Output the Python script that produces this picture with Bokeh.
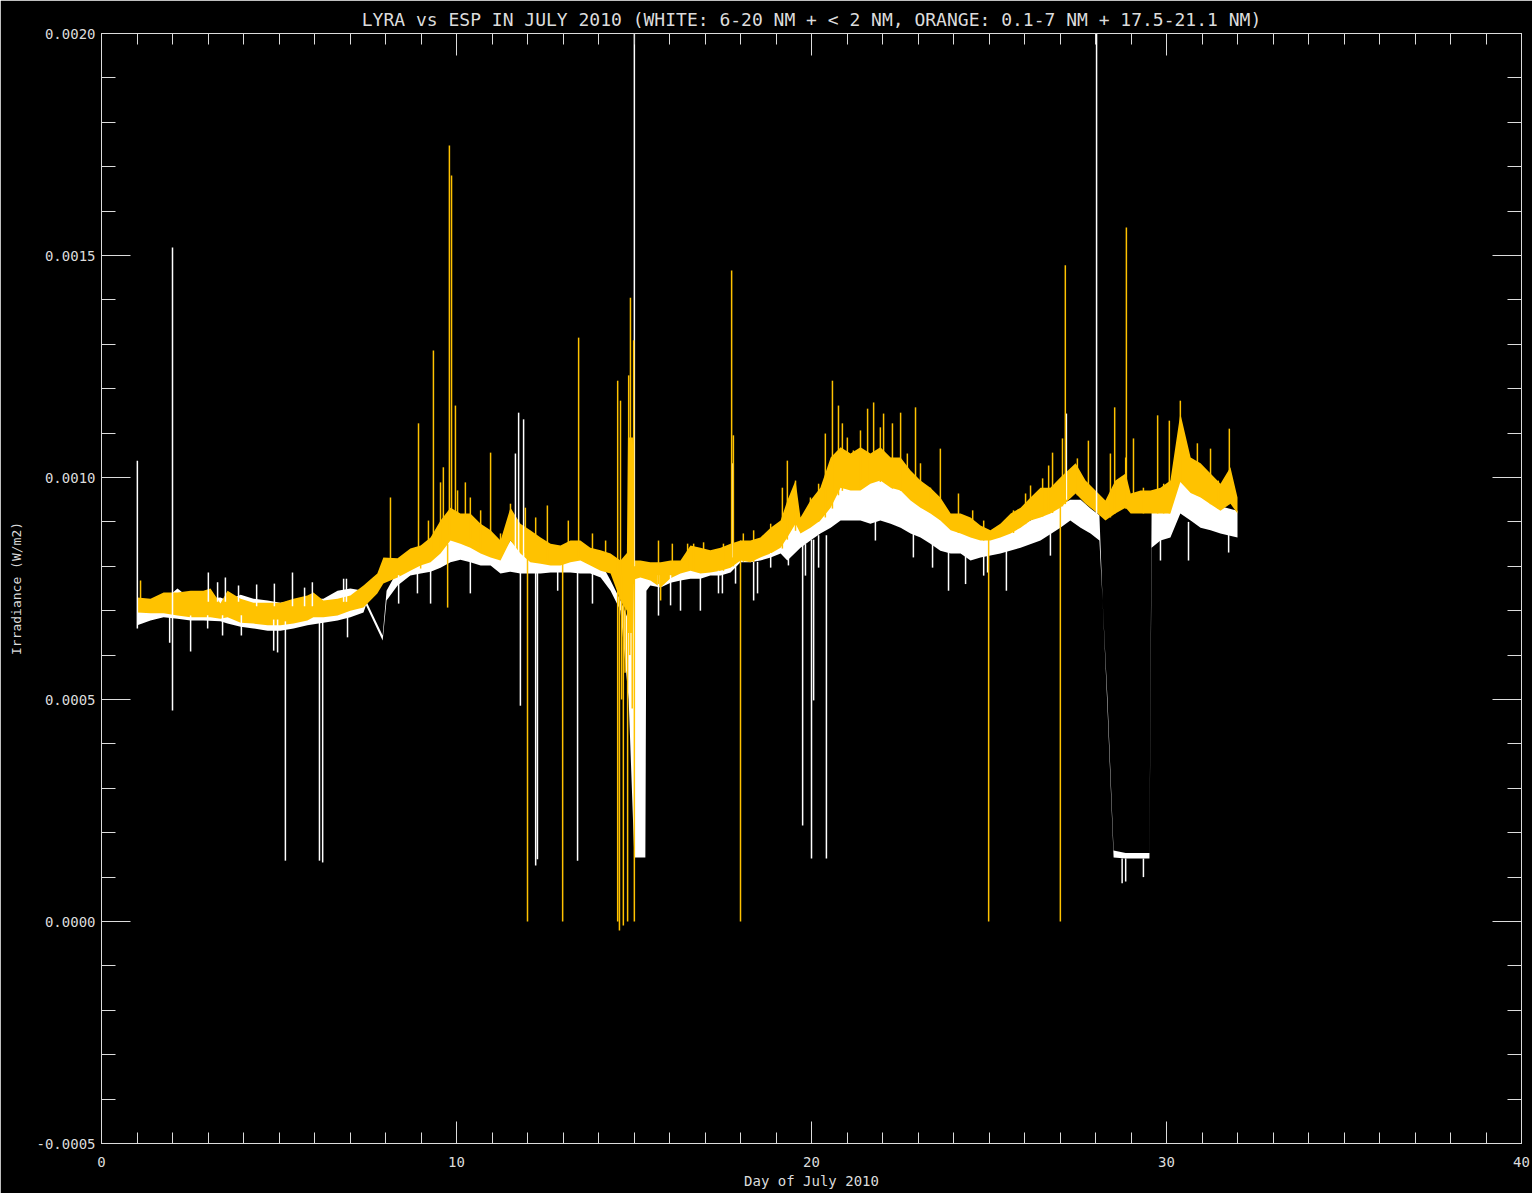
from bokeh.plotting import figure
from bokeh.models import Range1d, LinearAxis, SingleIntervalTicker, PrintfTickFormatter
from bokeh.embed import file_html
from bokeh.resources import INLINE
import numpy as np

# ---------------- data (irradiance in micro-W/m2, day of July 2010) ----------------
esp_day = [1.01, 1.38, 1.75, 2.14, 2.51, 2.87, 3.07, 3.35, 3.55, 3.92, 4.28, 4.68, 5.04, 5.41, 5.80, 5.97,
           6.25, 6.65, 7.01, 7.38, 7.77, 7.94, 8.34, 8.70, 8.99, 9.27, 9.55, 9.83, 10.11, 10.39, 10.68,
           10.96, 11.24, 11.52, 11.80, 12.08, 12.37, 12.65, 12.93, 13.21, 13.49, 13.77, 14.06, 14.34,
           14.62, 14.80, 14.83, 14.97, 15.00, 15.18, 15.46, 15.75, 16.03, 16.31, 16.59, 16.87, 17.15,
           17.44, 17.72, 18.00,
           18.28, 18.56, 18.85, 19.13, 19.32, 19.55, 19.69, 19.97, 20.25, 20.54, 20.82, 21.10, 21.38,
           21.66, 21.94, 22.23, 22.51, 22.79, 23.07, 23.35, 23.63, 23.92, 24.20, 24.48, 24.76, 25.04,
           25.32, 25.61, 25.89, 26.17, 26.45, 26.73, 27.01, 27.44, 27.72, 28.00, 28.28, 28.56, 28.85,
           28.99, 29.27, 29.55, 29.83, 30.11, 30.39, 30.68, 30.96, 31.24, 31.52, 31.80, 32.00]
esp_high = [730, 727, 741, 741, 745, 745, 750, 716, 745, 727, 718, 718, 718, 727, 734, 741,
            723, 727, 734, 757, 784, 820, 818, 840, 847, 865, 903, 932, 919, 919, 896,
            881, 858, 932, 896, 881, 865, 851, 847, 858, 858, 842, 836, 829,
            813, 830, 1090, 1090, 813, 813, 809, 809, 813, 813, 847, 842, 836,
            842, 851, 858,
            858, 865, 887, 903, 948, 993, 910, 948, 977, 1045, 1068, 1054, 1068,
            1054, 1068, 1045, 1045, 1016, 993, 977, 955, 919, 919, 910, 892, 881,
            896, 919, 932, 955, 977, 977, 1000, 1032, 993, 971, 948, 993, 1009,
            964, 971, 971, 977, 993, 1144, 1045, 1032, 1009, 986, 1023, 955]
esp_low = [696, 694, 694, 689, 685, 685, 685, 682, 685, 673, 671, 667, 667, 671, 678, 685,
           685, 689, 700, 707, 739, 761, 775, 790, 802, 809, 829, 858, 851, 842, 829,
           820, 813, 858, 829, 809, 806, 802, 802, 809, 813, 802, 790, 784,
           723, 700, 650, 650, 770, 775, 768, 752, 773, 784, 790, 784, 786,
           790, 797, 813,
           809, 820, 829, 842, 865, 896, 874, 887, 903, 932, 977, 971, 971,
           986, 993, 977, 971, 948, 932, 919, 903, 881, 874, 865, 858, 858,
           865, 874, 887, 903, 910, 919, 932, 964, 941, 923, 903, 919, 932,
           919, 919, 919, 919, 919, 990, 965, 955, 940, 925, 941, 919]

lyra_day = [1.01, 1.38, 1.75, 2.14, 2.51, 2.87, 3.35, 3.55, 3.92, 4.28, 4.68, 5.04, 5.41, 5.80, 6.25,
            6.65, 7.01, 7.38, 7.45, 7.92, 8.03, 8.34, 8.70, 8.99, 9.27, 9.55, 9.83, 10.11, 10.39,
            10.68, 10.96, 11.24, 11.52, 11.80, 12.08, 12.37, 12.65, 12.93, 13.21, 13.49, 13.77,
            14.06, 14.34, 14.62, 14.85, 15.01, 15.32, 15.35, 15.46, 15.75, 16.03, 16.31, 16.59,
            16.87, 17.15, 17.44, 17.72, 18.00, 18.28, 18.56, 18.85, 19.13, 19.32, 19.69, 19.97,
            20.25, 20.54, 20.82, 21.10, 21.38, 21.66, 21.94, 22.23, 22.51, 22.79, 23.07, 23.35,
            23.63, 23.92, 24.20, 24.48, 24.76, 25.32, 25.89, 26.45, 27.01, 27.29, 27.58, 27.86,
            28.11, 28.20, 28.34, 28.51, 28.85, 29.27, 29.52, 29.58, 29.83, 30.11, 30.39, 30.68,
            30.96, 31.24, 31.52, 32.00]
lyra_high = [712, 712, 723, 750, 727, 727, 730, 723, 736, 727, 723, 718, 723, 727, 727,
             745, 750, 745, 723, 644, 745, 790, 813, 824, 836, 858, 932, 903, 881,
             858, 835, 824, 858, 836, 824, 824, 820, 824, 824, 820, 813,
             809, 768, 723, 678, 813, 779, 779, 790, 790, 802, 806, 813,
             809, 813, 813, 824, 858, 847, 858, 869, 881, 941, 887, 903,
             910, 948, 980, 993, 980, 990, 997, 985, 978, 955, 940, 925,
             910, 888, 880, 870, 862, 870, 892, 915, 938, 950, 950, 930,
             915, 723, 498, 160, 154, 154, 154, 925, 925, 928, 1000, 975,
             965, 950, 935, 925]
lyra_low = [667, 678, 685, 682, 678, 678, 676, 671, 664, 660, 655, 655, 660, 667, 673,
            678, 685, 696, 712, 633, 723, 757, 779, 784, 788, 797, 809, 815, 809,
            802, 802, 784, 788, 784, 784, 784, 786, 786, 786, 784, 784,
            775, 745, 700, 500, 144, 144, 745, 757, 752, 763, 768, 772,
            772, 779, 779, 786, 809, 809, 813, 820, 829, 813, 842, 858,
            874, 887, 903, 903, 903, 896, 903, 896, 887, 874, 865, 851,
            835, 829, 829, 813, 820, 829, 842, 858, 887, 903, 887, 874,
            858, 723, 475, 144, 142, 142, 142, 842, 858, 865, 919, 903,
            887, 881, 874, 865]

# spikes: day, value at base, value at tip
lyra_spk_day = [1.01, 2.00, 2.51, 1.92, 2.99, 3.01, 3.27, 3.41, 3.49, 3.86, 3.94, 4.37, 4.85, 4.87,
                4.96, 5.18, 5.38, 5.72, 5.94, 6.14, 6.23, 6.82, 6.90, 6.93, 8.37, 8.90, 9.27, 10.39,
                11.66, 11.75, 11.80, 11.89, 12.23, 12.28, 12.85, 13.41, 13.83, 15.01, 15.69, 16.03,
                16.31, 16.87, 17.38, 17.49, 17.77, 17.86, 18.37, 18.48, 18.85, 19.35, 19.75, 19.83,
                20.00, 20.06, 20.20, 20.42, 21.80, 22.87, 23.41, 23.86, 24.34, 24.85, 24.96, 25.49,
                26.73, 27.18, 28.03, 28.75, 28.85, 29.35, 29.83, 30.62, 31.75]
lyra_spk_base = [660, 475, 689, 690, 690, 720, 720, 690, 720, 720, 690, 710, 680, 710,
                 680, 676, 710, 710, 710, 676, 676, 720, 720, 690, 780, 790, 800, 820,
                 820, 820, 820, 800, 800, 800, 800, 800, 790, 800, 780, 780,
                 780, 780, 790, 790, 820, 800, 810, 810, 830, 840, 850, 850,
                 860, 860, 870, 870, 950, 920, 900, 880, 860, 850, 850, 860,
                 890, 950, 900, 142, 142, 142, 880, 900, 890]
lyra_spk_tip = [1038, 1518, 608, 628, 660, 786, 764, 644, 775, 757, 644, 759, 610, 761,
                606, 137, 786, 752, 764, 137, 133, 772, 772, 640, 716, 739, 716, 739,
                1054, 1146, 486, 1131, 126, 140, 745, 137, 716, 2000, 689, 712,
                700, 700, 739, 739, 1032, 761, 723, 739, 797, 802, 216, 779,
                142, 498, 797, 142, 858, 820, 797, 745, 760, 779, 786, 745,
                824, 1144, 2000, 86, 90, 100, 813, 813, 831]

esp_spk_day = [1.10, 8.14, 8.93, 9.21, 9.35, 9.55, 9.63, 9.80, 9.86, 9.97, 10.03, 10.25, 10.39, 10.68,
               10.96, 11.24, 11.52, 11.94, 12.23, 12.56, 13.15, 13.44, 13.83, 14.20, 14.54, 14.62,
               14.85, 14.90, 14.99, 15.69, 16.08, 16.51, 16.68, 16.96, 17.52, 17.75, 17.80, 18.08,
               18.37, 18.85, 19.18, 19.32, 19.55, 19.97, 20.20, 20.39, 20.59, 20.76, 20.87, 21.01,
               21.18, 21.38, 21.58, 21.75, 21.94, 22.03, 22.28, 22.51, 22.70, 22.93, 23.07, 23.35,
               23.63, 24.14, 24.54, 24.85, 25.69, 26.03, 26.17, 26.51, 26.68, 26.79, 27.07, 27.15,
               27.49, 27.80, 28.42, 28.54, 28.85, 28.87, 29.07, 29.35, 29.75, 29.92, 30.08, 30.39,
               30.87, 31.24, 31.46, 31.77,
               8.99, 9.75, 12.00, 12.99, 14.54, 14.59, 14.65, 14.70, 14.75, 14.82, 14.88, 14.95,
               15.01, 15.75, 18.00, 24.99, 27.01]
esp_spk_base = [700, 790, 820, 820, 830, 840, 850, 870, 870, 870, 860, 860, 860, 840,
                830, 820, 860, 830, 810, 810, 810, 820, 810, 790, 780, 760,
                760, 760, 760, 760, 780, 790, 790, 790, 790, 800, 800, 810,
                810, 830, 840, 860, 880, 890, 900, 910, 930, 960, 970, 975,
                975, 975, 985, 990, 990, 990, 975, 970, 960, 950, 935, 920,
                905, 875, 865, 858, 875, 895, 905, 912, 918, 920, 935, 940,
                960, 940, 910, 918, 930, 930, 920, 919, 919, 919, 919, 990,
                960, 940, 930, 940,
                820, 850, 830, 810, 780, 780, 780, 780, 780, 780, 780, 780,
                780, 780, 830, 870, 940]
esp_spk_tip = [768, 955, 1122, 903, 1286, 989, 1023, 1748, 1680, 1162, 971, 989, 955, 926,
               1056, 874, 941, 932, 910, 937, 903, 1315, 874, 858, 1218, 1173,
               1230, 1405, 1309, 858, 851, 851, 851, 854, 851, 1466, 1095, 874,
               881, 896, 977, 1038, 993, 955, 986, 1099, 1218, 1162, 1122, 1090,
               1061, 1106, 1155, 1169, 1113, 1144, 1122, 1146, 1054, 1158, 1032, 977,
               1065, 964, 926, 903, 926, 964, 982, 998, 1027, 1056, 1088, 1478,
               1043, 1083, 1054, 1158, 1045, 1563, 1088, 977, 1140, 986, 1128, 1173,
               1077, 1065, 993, 1110,
               795, 707, 0, 0, 0, -20, 500, -9, 560, 0, 600, 480,
               0, 723, 0, 0, 0]

title_text = "LYRA vs ESP IN JULY 2010 (WHITE: 6-20 NM + < 2 NM, ORANGE: 0.1-7 NM + 17.5-21.1 NM)"
x_label = "Day of July 2010"
y_label = "Irradiance (W/m2)"

U = 1e-6
WHITE = "#FFFFFF"
ORANGE = "#FFC200"
FG = "#DCDCDC"
FONT = "DejaVu Sans Mono"

p = figure(frame_width=1420, frame_height=1110, output_backend="svg", toolbar_location=None,
           x_range=Range1d(0, 40), y_range=Range1d(-0.0005, 0.0020),
           background_fill_color="black", border_fill_color="black",
           min_border_left=101, min_border_right=11, min_border_top=33, min_border_bottom=50,
           x_axis_label=x_label, y_axis_label=y_label)
p.grid.visible = False
p.outline_line_color = FG

t = p.title
t.text = title_text
t.align = "center"
t.text_color = FG
t.text_font = FONT
t.text_font_style = "normal"
t.text_font_size = "18px"
t.standoff = 7

def style(ax, tick_len, minor_len, labels=True):
    ax.axis_line_color = FG
    ax.major_tick_line_color = FG
    ax.minor_tick_line_color = FG
    ax.major_tick_in = tick_len
    ax.major_tick_out = 0
    ax.minor_tick_in = minor_len
    ax.minor_tick_out = 0
    ax.major_label_text_color = FG
    ax.major_label_text_font = FONT
    ax.major_label_text_font_size = "14px" if labels else "0px"
    ax.axis_label_text_color = FG
    ax.axis_label_text_font = FONT
    ax.axis_label_text_font_style = "normal"

xa = p.xaxis[0]
xa.ticker = SingleIntervalTicker(interval=10, num_minor_ticks=10)
style(xa, 22, 11)
xa.major_label_standoff = 13
xa.axis_label_text_font_size = "14px"
xa.axis_label_standoff = 3

ya = p.yaxis[0]
ya.ticker = SingleIntervalTicker(interval=0.0005, num_minor_ticks=5)
ya.formatter = PrintfTickFormatter(format="%.4f")
style(ya, 29, 14)
ya.major_label_standoff = 6
ya.axis_label_text_font_size = "13px"
ya.axis_label_standoff = 9

top = LinearAxis(ticker=SingleIntervalTicker(interval=10, num_minor_ticks=10))
style(top, 22, 11, labels=False)
top.major_label_standoff = 0
top.axis_label_standoff = 0
p.add_layout(top, "above")

right = LinearAxis(ticker=SingleIntervalTicker(interval=0.0005, num_minor_ticks=5))
style(right, 29, 14, labels=False)
right.major_label_standoff = 0
right.axis_label_standoff = 0
p.add_layout(right, "right")

# bands
p.varea(x=lyra_day, y1=np.array(lyra_low) * U, y2=np.array(lyra_high) * U, fill_color=WHITE)
p.varea(x=esp_day, y1=np.array(esp_low) * U, y2=np.array(esp_high) * U, fill_color=ORANGE)
# spikes
p.segment(x0=lyra_spk_day, x1=lyra_spk_day, y0=np.array(lyra_spk_base) * U, y1=np.array(lyra_spk_tip) * U,
          line_color=WHITE, line_width=1.5)
p.segment(x0=esp_spk_day, x1=esp_spk_day, y0=np.array(esp_spk_base) * U, y1=np.array(esp_spk_tip) * U,
          line_color=ORANGE, line_width=1.5)

open("out.html", "w").write(file_html(p, INLINE))
